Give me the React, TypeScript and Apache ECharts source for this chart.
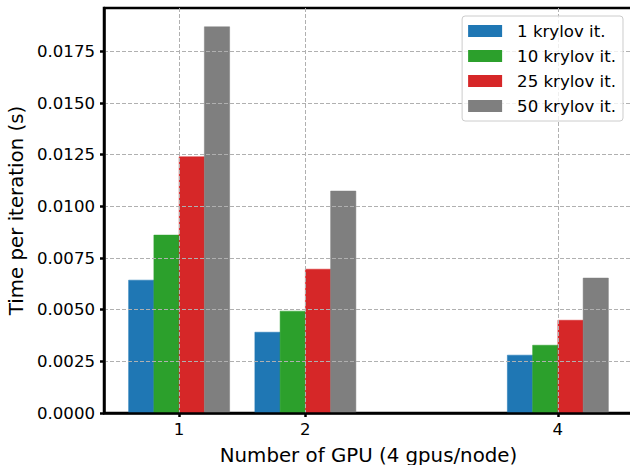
import React, { useEffect, useRef } from "react";
import * as echarts from "echarts";

const gpus = [1, 2, 4];
const seriesNames = ["1 krylov it.", "10 krylov it.", "25 krylov it.", "50 krylov it."];
const krylov1 = [0.00643, 0.00391, 0.0028];
const krylov10 = [0.00861, 0.00493, 0.00328];
const krylov25 = [0.0124, 0.00696, 0.00449];
const krylov50 = [0.01869, 0.01074, 0.00653];
const xTicks = [1, 2, 4];
const yTicks = [0, 0.0025, 0.005, 0.0075, 0.01, 0.0125, 0.015, 0.0175];
const colors = ["#1f77b4", "#2ca02c", "#d62728", "#7f7f7f"];

const BAR_W = 0.2;
const offsets = [-0.3, -0.1, 0.1, 0.3];
const FONT = "DejaVu Sans";

export default function App() {
  const ref = useRef<HTMLDivElement>(null);
  useEffect(() => {
    if (!ref.current) return;
    const chart = echarts.init(ref.current, undefined, { renderer: "svg" });
    const all = [krylov1, krylov10, krylov25, krylov50];
    const series = all.map((vals, si) => ({
      name: seriesNames[si],
      type: "custom",
      z: 2,
      itemStyle: { color: colors[si] },
      encode: { x: 0, y: 1 },
      data: gpus.map((g, i) => [g, vals[i]]),
      renderItem: (params: any, api: any) => {
        const x = api.value(0) + offsets[si];
        const y = api.value(1);
        const p0 = api.coord([x - BAR_W / 2, y]);
        const p1 = api.coord([x + BAR_W / 2, 0]);
        return {
          type: "rect",
          shape: { x: p0[0], y: p0[1], width: p1[0] - p0[0], height: p1[1] - p0[1] },
          style: { fill: colors[si], stroke: colors[si], lineWidth: 0.5 },
        };
      },
    }));
    const gridLine = { show: true, lineStyle: { color: "#b0b0b0", width: 1, type: [4, 2] } };
    chart.setOption({
      animation: false,
      color: colors,
      grid: {
        left: 104,
        right: -3,
        top: 8,
        bottom: 52,
        outerBoundsMode: "none",
        containLabel: false,
        show: true,
        borderColor: "#000",
        borderWidth: 2.5,
      },
      legend: {
        orient: "vertical",
        right: 7,
        top: 16,
        itemWidth: 34,
        itemHeight: 12,
        itemGap: 8,
        icon: "rect",
        padding: [6.5, 7, 6.5, 6],
        backgroundColor: "rgba(255,255,255,0.8)",
        borderColor: "#cccccc",
        borderWidth: 1,
        borderRadius: 3,
        textStyle: { fontFamily: FONT, fontSize: 16.6, color: "#000", padding: [0, 0, 0, 10] },
        data: seriesNames,
      },
      xAxis: {
        type: "value",
        min: 0.405,
        max: 4.595,
        z: 3,
        name: "Number of GPU (4 gpus/node)",
        nameLocation: "middle",
        nameGap: 32,
        nameTextStyle: { fontFamily: FONT, fontSize: 19.8, color: "#000" },
        axisLine: { show: true, lineStyle: { color: "#000", width: 2.5 } },
        axisTick: { show: true, inside: false, length: 4, lineStyle: { color: "#000", width: 2.5 }, customValues: xTicks },
        axisLabel: { customValues: xTicks, margin: 8, fontFamily: FONT, fontSize: 16.6, color: "#000" },
        splitLine: gridLine,
      },
      yAxis: {
        type: "value",
        min: 0,
        max: 0.0196,
        z: 3,
        name: "Time per iteration (s)",
        nameLocation: "middle",
        nameGap: 68,
        nameTextStyle: { fontFamily: FONT, fontSize: 19.8, color: "#000" },
        axisLine: { show: true, lineStyle: { color: "#000", width: 2.5 } },
        axisTick: { show: true, inside: false, length: 4, lineStyle: { color: "#000", width: 2.5 }, customValues: yTicks },
        axisLabel: {
          customValues: yTicks,
          margin: 9,
          fontFamily: FONT,
          fontSize: 16.6,
          color: "#000",
          formatter: (v: number) => v.toFixed(4),
        },
        splitLine: gridLine,
      },
      series,
    });
    return () => chart.dispose();
  }, []);
  return <div ref={ref} style={{ position: "absolute", left: 0, top: 0, width: 630, height: 465 }} />;
}
